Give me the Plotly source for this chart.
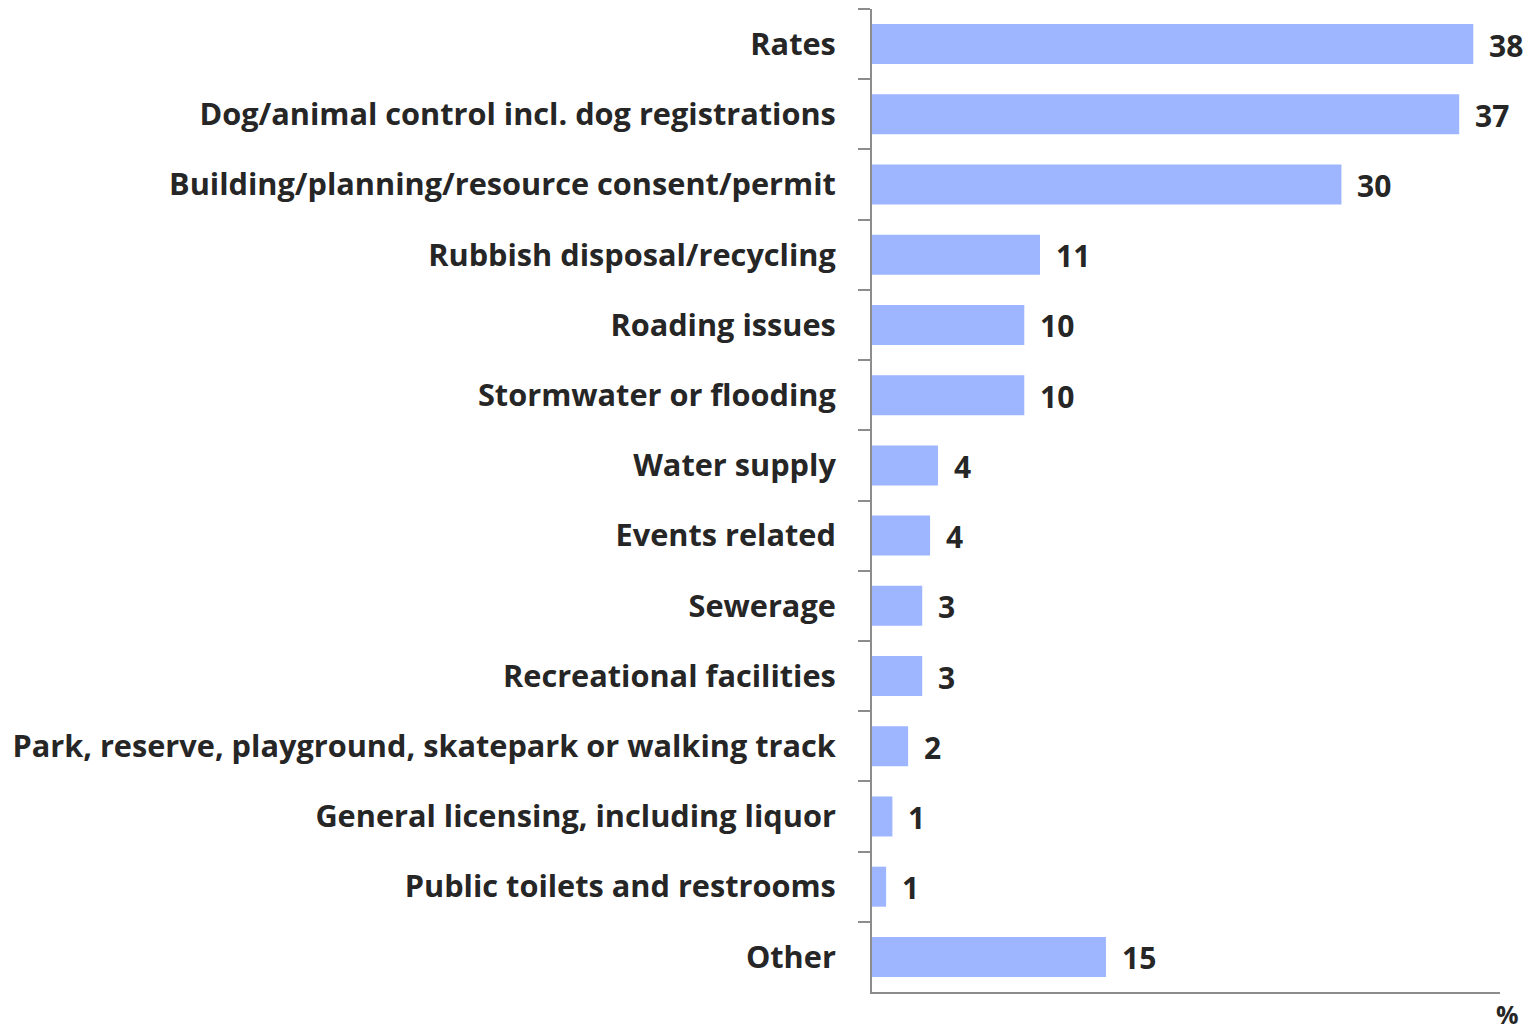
import plotly.graph_objects as go

categories = [
    "Rates",
    "Dog/animal control incl. dog registrations",
    "Building/planning/resource consent/permit",
    "Rubbish disposal/recycling",
    "Roading issues",
    "Stormwater or flooding",
    "Water supply",
    "Events related",
    "Sewerage",
    "Recreational facilities",
    "Park, reserve, playground, skatepark or walking track",
    "General licensing, including liquor",
    "Public toilets and restrooms",
    "Other",
]
# bar lengths (%), labels as printed
values = [38.3, 37.4, 29.9, 10.7, 9.7, 9.7, 4.2, 3.7, 3.2, 3.2, 2.3, 1.3, 0.9, 14.9]
labels = [38, 37, 30, 11, 10, 10, 4, 4, 3, 3, 2, 1, 1, 15]

bar_color = "#9db6ff"
text_color = "#262626"
axis_color = "#8c8c8c"
font_family = "'Open Sans', Lato, sans-serif"

fig = go.Figure()
fig.add_trace(go.Bar(
    x=values,
    y=categories,
    orientation="h",
    marker=dict(color=bar_color, line=dict(width=0)),
    hoverinfo="skip",
))

# value labels to the right of each bar
for cat, v, lab in zip(categories, values, labels):
    fig.add_annotation(
        x=v, y=cat, text=str(lab),
        xanchor="left", yanchor="middle",
        xshift=14, yshift=-1, showarrow=False,
        font=dict(family=font_family, size=30, color=text_color, weight="bold"),
    )

fig.add_annotation(
    x=1.0, y=0, xref="paper", yref="paper",
    text="%", xanchor="center", yanchor="top", yshift=-3, xshift=7,
    showarrow=False,
    font=dict(family=font_family, size=25, color=text_color, weight="bold"),
)

# the page body has an 8px margin, so the figure is sized to fit inside it
fig.update_layout(
    width=1532, height=1024,
    margin=dict(l=864, r=40, t=1, b=40),
    plot_bgcolor="white", paper_bgcolor="white",
    bargap=0.43,
    showlegend=False,
    font=dict(family=font_family, color=text_color),
)
fig.update_xaxes(
    range=[0, 40],
    showgrid=False, zeroline=False,
    showticklabels=False, ticks="",
    showline=True, linecolor=axis_color, linewidth=2,
)
fig.update_yaxes(
    autorange="reversed",
    automargin=False,
    showgrid=False, zeroline=False,
    showline=True, linecolor=axis_color, linewidth=2,
    ticks="outside", tickson="boundaries", ticklen=12,
    tickcolor=axis_color, tickwidth=2,
    ticklabelstandoff=28,
    tickfont=dict(family=font_family, size=30.7, color=text_color, weight="bold"),
)

fig.write_html("out.html")
